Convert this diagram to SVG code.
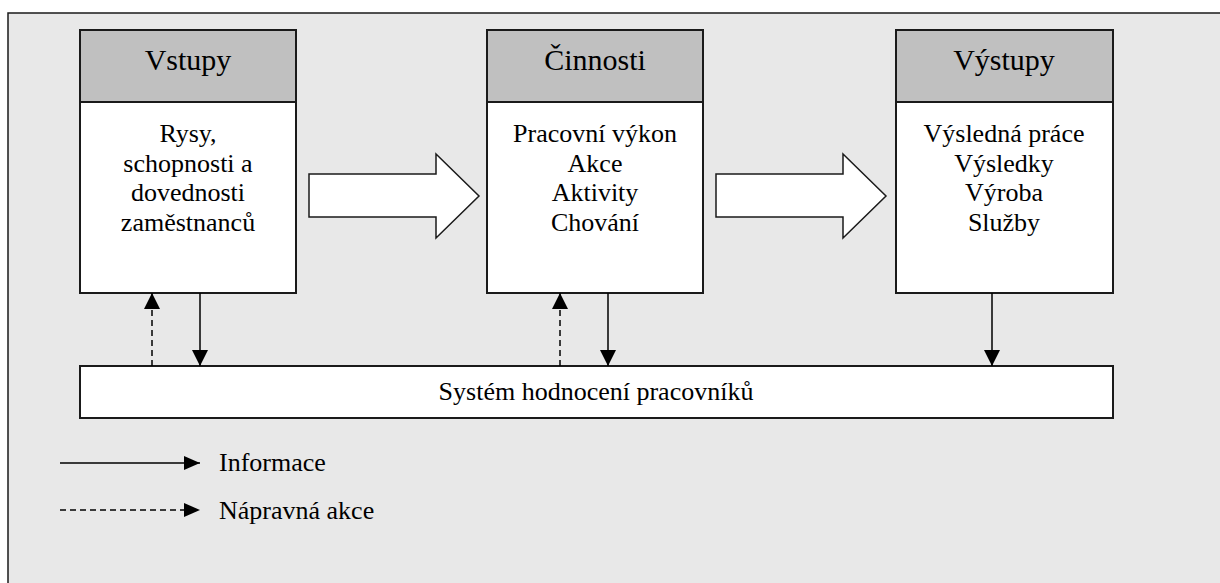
<svg xmlns="http://www.w3.org/2000/svg" width="1220" height="583" viewBox="0 0 1220 583">
  <defs>
    <style>
      .frame { fill: #e8e8e8; stroke: #1a1a1a; stroke-width: 1.5; }
      .box { fill: #ffffff; stroke: #1a1a1a; stroke-width: 2; }
      .head { fill: #c0c0c0; stroke: #1a1a1a; stroke-width: 2; }
      .big { fill: #ffffff; stroke: #1a1a1a; stroke-width: 1.5; stroke-linejoin: miter; }
      .line { fill: none; stroke: #000; stroke-width: 1.5; }
      .dash { stroke-dasharray: 6 4; }
      .txt text { fill: #000; text-anchor: middle; font-family: "Liberation Serif", Tinos, "Times New Roman", Times, "Nimbus Roman", "DejaVu Serif", "Noto Serif", serif; }
      .ht { font-size: 30px; }
      .bt { font-size: 26px; }
      .txt .lt { text-anchor: start; font-size: 26px; }
    </style>
    <marker id="arr" markerUnits="userSpaceOnUse" markerWidth="16" markerHeight="16" viewBox="0 0 16 16" refX="16" refY="8" orient="auto">
      <path d="M0,0 L16,8 L0,16 Z" fill="#000"/>
    </marker>
    <marker id="arrS" markerUnits="userSpaceOnUse" markerWidth="16" markerHeight="14" viewBox="0 0 16 14" refX="16" refY="7" orient="auto">
      <path d="M0,0 L16,7 L0,14 Z" fill="#000"/>
    </marker>
  </defs>

  <rect x="0" y="0" width="1220" height="583" fill="#ffffff"/>
  <rect class="frame" x="8" y="13" width="1230" height="590"/>

  <g class="txt">
    <g id="vstupy">
      <rect class="box" x="80" y="30" width="216" height="263"/>
      <rect class="head" x="80" y="30" width="216" height="72"/>
      <text class="ht" x="188" y="70">Vstupy</text>
      <text class="bt" x="188" y="142">Rysy,</text>
      <text class="bt" x="188" y="172">schopnosti a</text>
      <text class="bt" x="188" y="201">dovednosti</text>
      <text class="bt" x="188" y="231">zaměstnanců</text>
    </g>

    <g id="cinnosti">
      <rect class="box" x="487" y="30" width="216" height="263"/>
      <rect class="head" x="487" y="30" width="216" height="72"/>
      <text class="ht" x="595" y="70">Činnosti</text>
      <text class="bt" x="595" y="142">Pracovní výkon</text>
      <text class="bt" x="595" y="172">Akce</text>
      <text class="bt" x="595" y="201">Aktivity</text>
      <text class="bt" x="595" y="231">Chování</text>
    </g>

    <g id="vystupy">
      <rect class="box" x="896" y="30" width="217" height="263"/>
      <rect class="head" x="896" y="30" width="217" height="72"/>
      <text class="ht" x="1004" y="70">Výstupy</text>
      <text class="bt" x="1004" y="142">Výsledná práce</text>
      <text class="bt" x="1004" y="172">Výsledky</text>
      <text class="bt" x="1004" y="201">Výroba</text>
      <text class="bt" x="1004" y="231">Služby</text>
    </g>

    <g id="system">
      <rect class="box" x="80" y="366" width="1033" height="52"/>
      <text class="bt" x="596" y="400">Systém hodnocení pracovníků</text>
    </g>

    <g id="legend">
      <line class="line" x1="60" y1="463" x2="200" y2="463" marker-end="url(#arrS)"/>
      <text class="lt" x="219" y="471">Informace</text>
      <line class="line dash" x1="60" y1="510" x2="200" y2="510" marker-end="url(#arrS)"/>
      <text class="lt" x="219" y="519">Nápravná akce</text>
    </g>
  </g>

  <g id="connectors">
    <!-- block arrows between stages -->
    <path class="big" d="M309,174 H436 V154 L479,196 L436,238 V217 H309 Z"/>
    <path class="big" d="M716,174 H843 V154 L886,196 L843,238 V217 H716 Z"/>
    <!-- information flows down, corrective action flows up -->
    <line class="line" x1="200" y1="293" x2="200" y2="366" marker-end="url(#arr)"/>
    <line class="line dash" x1="152" y1="366" x2="152" y2="293" marker-end="url(#arr)"/>
    <line class="line" x1="608" y1="293" x2="608" y2="366" marker-end="url(#arr)"/>
    <line class="line dash" x1="560" y1="366" x2="560" y2="293" marker-end="url(#arr)"/>
    <line class="line" x1="992" y1="293" x2="992" y2="366" marker-end="url(#arr)"/>
  </g>
</svg>
